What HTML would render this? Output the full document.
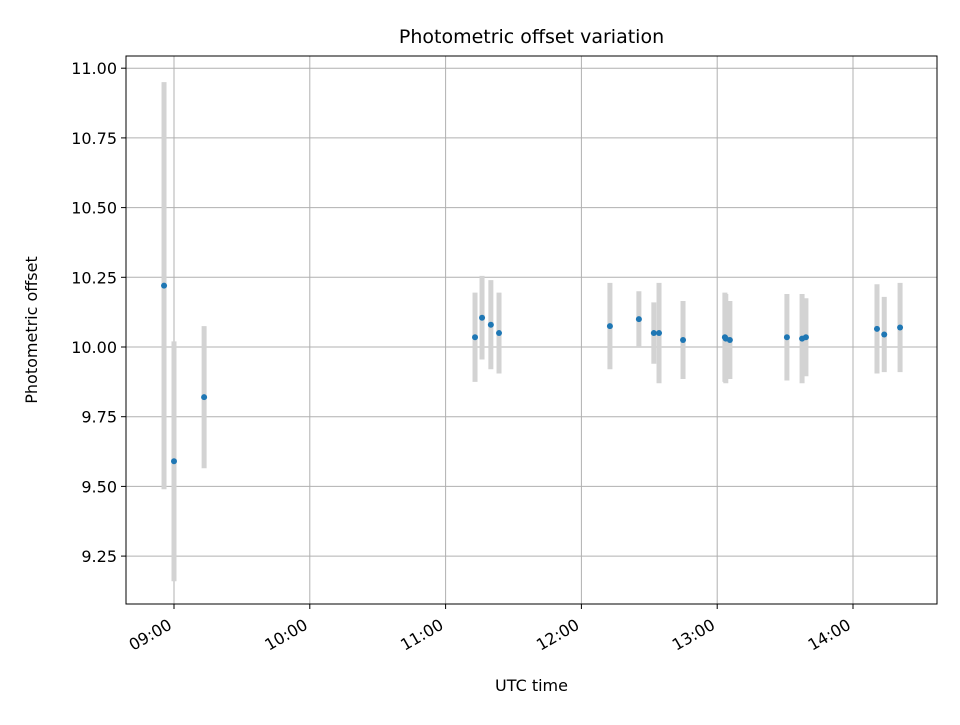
<!DOCTYPE html>
<html><head><meta charset="utf-8"><style>
body{margin:0;background:#fff;font-family:"Liberation Sans","DejaVu Sans",sans-serif}
svg text{font-family:"DejaVu Sans","Liberation Sans",sans-serif;fill:#000}
</style></head><body>
<svg id="chart" width="960" height="720"></svg>
<script>
const times = ["08:55.6","09:00.0","09:13.3","11:13.0","11:16.1","11:20.0","11:23.6","12:12.6","12:25.4","12:32.0","12:34.3","12:44.9","13:03.4","13:03.8","13:05.6","13:30.8","13:37.5","13:39.2","14:10.6","14:13.8","14:20.8"];
const offsets = [10.22,9.59,9.82,10.035,10.105,10.08,10.05,10.075,10.1,10.05,10.05,10.025,10.035,10.03,10.025,10.035,10.03,10.035,10.065,10.045,10.07];
const errors = [0.73,0.43,0.255,0.16,0.15,0.16,0.145,0.155,0.1,0.11,0.18,0.14,0.16,0.16,0.14,0.155,0.16,0.14,0.16,0.135,0.16];
const xTickLabels = ["09:00","10:00","11:00","12:00","13:00","14:00"];
const yTickValues = [9.25,9.5,9.75,10.0,10.25,10.5,10.75,11.0];

const NS="http://www.w3.org/2000/svg";
const svg=document.getElementById('chart');
const L=126,R=937,T=56,B=604;
function tmin(s){const [h,m]=s.split(':');return +h*60+parseFloat(m);}
function xs(min){return 174+(min-540)*135.8/60;}
function ys(v){return 347-(v-10)*278.8;}
function el(tag,a,p){const e=document.createElementNS(NS,tag);for(const k in a)e.setAttribute(k,a[k]);(p||svg).appendChild(e);return e;}
el('rect',{x:0,y:0,width:960,height:720,fill:'#fff'});
const grid=el('g',{});


xTickLabels.forEach(l=>{const x=xs(tmin(l));
  el('line',{x1:x,x2:x,y1:T,y2:B,stroke:'#b0b0b0','stroke-width':1},grid);
  el('line',{x1:x,x2:x,y1:B,y2:B+5,stroke:'#000'});
  const tx=x-1, ty=B+24;
  const t=el('text',{x:tx,y:ty,'font-size':16,'text-anchor':'end',transform:`rotate(-30 ${tx} ${ty})`});
  t.textContent=l;
  
  
});
yTickValues.forEach(v=>{const y=ys(v);
  el('line',{x1:L,x2:R,y1:y,y2:y,stroke:'#b0b0b0','stroke-width':1},grid);
  el('line',{x1:L-5,x2:L,y1:y,y2:y,stroke:'#000'});
  const t=el('text',{x:L-9,y:y+6,'font-size':16,'text-anchor':'end'});
  t.textContent=v.toFixed(2);
  
  
});
const g=el('g',{});


times.forEach((s,i)=>{const x=xs(tmin(s));
  const eb=el('line',{x1:x,x2:x,y1:ys(offsets[i]+errors[i]),y2:ys(offsets[i]-errors[i]),stroke:'#d3d3d3','stroke-width':5},g);
  
  
});
times.forEach((s,i)=>{const x=xs(tmin(s));
  const c=el('circle',{cx:x,cy:ys(offsets[i]),r:3,fill:'#1f77b4'},g);
  
  
});
const fr=el('rect',{x:L,y:T,width:R-L,height:B-T,fill:'none',stroke:'#000','stroke-width':1});


const tt=el('text',{x:(L+R)/2,y:43,'font-size':19,'text-anchor':'middle'});tt.textContent='Photometric offset variation';


const xt=el('text',{x:(L+R)/2,y:691,'font-size':16,'text-anchor':'middle'});xt.textContent='UTC time';


const yt=el('text',{x:37,y:330,'font-size':16,'text-anchor':'middle',transform:'rotate(-90 37 330)'});yt.textContent='Photometric offset';


</script>
</body></html>
